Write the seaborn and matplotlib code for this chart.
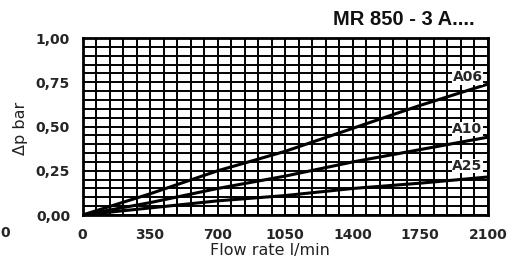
import numpy as np
import pandas as pd
import matplotlib.pyplot as plt
from matplotlib.ticker import MultipleLocator, FuncFormatter
import seaborn as sns

# Données
debit = [0, 350, 700, 1050, 1400, 1750, 2100]
dp_a06 = [0.0, 0.12, 0.25, 0.36, 0.49, 0.62, 0.74]
dp_a10 = [0.0, 0.07, 0.15, 0.22, 0.30, 0.37, 0.44]
dp_a25 = [0.0, 0.04, 0.08, 0.11, 0.15, 0.18, 0.215]
series = ["A06", "A10", "A25"]
label_y = [0.755, 0.463, 0.254]
x_ticks = [0, 350, 700, 1050, 1400, 1750, 2100]
y_ticks = [0.0, 0.25, 0.5, 0.75, 1.0]

df = pd.DataFrame({
    "debit": debit * 3,
    "dp": dp_a06 + dp_a10 + dp_a25,
    "serie": [s for s in series for _ in debit],
})

sns.set_style("white")
plt.rcParams['font.family'] = ['DejaVu Sans']

fig = plt.figure(figsize=(5.19, 2.66), dpi=100)
ax = fig.add_axes([0.159, 0.1917, 0.781, 0.665])

sns.lineplot(data=df, x="debit", y="dp", units="serie", estimator=None,
             color="black", lw=2.2, ax=ax, legend=False)

ax.set_xlim(0, 2100)
ax.set_ylim(0, 1.0)
ax.xaxis.set_minor_locator(MultipleLocator(70))
ax.yaxis.set_minor_locator(MultipleLocator(0.05))
ax.set_xticks(x_ticks)
ax.set_yticks(y_ticks)
ax.yaxis.set_major_formatter(FuncFormatter(lambda v, p: f"{v:.2f}".replace(".", ",")))
ax.grid(True, which="both", color="black", lw=1.4)
ax.set_axisbelow(True)
for sp in ax.spines.values():
    sp.set_color("black")
    sp.set_linewidth(2)
ax.tick_params(axis="both", which="major", direction="out", length=7, width=1.5,
               color="black", labelsize=10, pad=2)
ax.tick_params(which="minor", length=0)
for lab in ax.get_xticklabels() + ax.get_yticklabels():
    lab.set_fontweight("bold")

ax.set_xlabel("")
ax.set_ylabel("")
fig.text(270 / 519, 1 - 251 / 266, "Flow rate l/min", ha="center", va="center",
         fontsize=11.5, color="#222222")
fig.text(20 / 519, 1 - 128 / 266, "\u0394p bar", ha="center", va="center",
         rotation=90, fontsize=11.5, color="#222222")

# étiquettes des courbes
for nom, yy in zip(series, label_y):
    ax.text(2072, yy, nom, ha="right", va="baseline", fontsize=10,
            fontweight="bold", bbox=dict(facecolor="white", edgecolor="none", pad=0.2))

fig.text(475 / 519, 1 - 19.5 / 266, "MR 850 - 3 A....", ha="right", va="center",
         fontsize=14.5, fontweight="bold", family="Liberation Sans", color="#111111")
fig.text(0.0, 1 - 233 / 266, "0", ha="left", va="center", fontsize=10, fontweight="bold")

fig.savefig("out.png", dpi=100)
